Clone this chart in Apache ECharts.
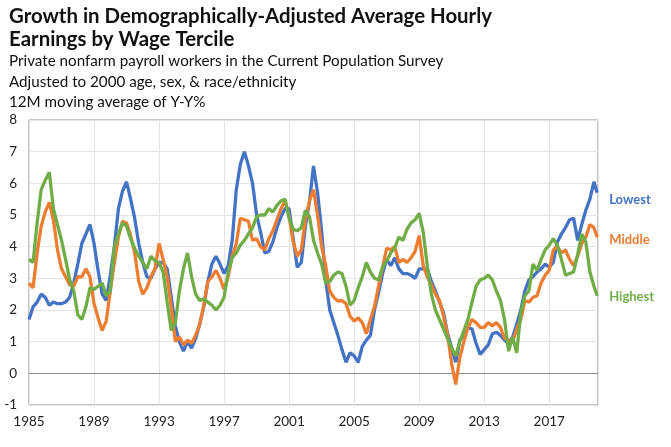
<!DOCTYPE html>
<html><head><meta charset="utf-8">
<script src="https://cdn.jsdelivr.net/npm/echarts@6/dist/echarts.min.js"></script>
<style>html,body{margin:0;padding:0;background:#fff}#c{width:671px;height:447px}</style>
</head><body><div id="c"></div>
<script>
// Quarterly observations starting 1985.0, final point late 2019
const startYear = 1985;
const quarterStep = 0.25;
const lastTime = 2019.95;
const seriesNames = ['Lowest', 'Middle', 'Highest'];
const seriesColors = ['#4472C4', '#ED7D31', '#70AD47'];
const lowest = [
  1.7, 2.1, 2.25, 2.5,  2.4, 2.15, 2.25, 2.2,  2.2, 2.25, 2.4, 2.85,  3.45, 4.1, 4.4, 4.7,
  4.1, 3.25, 2.5, 2.3,  3.1, 4.0, 5.2, 5.75,  6.05, 5.5, 4.9, 4.1,  3.5, 3.05, 3.0, 3.3,
  3.5, 3.5, 3.3, 2.4,  1.5, 1.0, 0.7, 1.0,  0.8, 1.1, 1.55, 2.1,  2.9, 3.45, 3.7, 3.45,
  3.15, 3.4, 4.2, 5.8,  6.6, 7.0, 6.55, 6.0,  5.0, 4.45, 3.8, 3.85,  4.15, 4.6, 4.95, 5.2,
  5.2, 4.25, 3.35, 3.5,  4.65, 5.4, 6.55, 5.7,  4.5, 2.95, 2.0, 1.6,  1.2, 0.75, 0.35, 0.65,
  0.55, 0.35, 0.85, 1.05,  1.2, 2.0, 2.55, 3.15,  3.6, 3.4, 3.65, 3.3,  3.15, 3.15, 3.1, 3.0,
  3.3, 3.3, 3.3, 2.9,  2.6, 2.25, 1.9, 1.25,  0.8, 0.35, 1.05, 1.2,  1.45, 1.4, 0.95, 0.6,
  0.75, 0.9, 1.25, 1.3,  1.2, 1.05, 0.95, 1.15,  1.55, 2.0, 2.6, 2.95,  3.05, 3.2, 3.3, 3.45,
  3.35, 3.5, 4.15, 4.4,  4.6, 4.85, 4.9, 4.2,  4.7, 5.15, 5.5, 6.05,  5.7
];
const middle = [
  2.85, 2.7, 3.8, 4.65,  5.1, 5.4, 4.85, 3.9,  3.3, 3.05, 2.8, 2.75,  3.05, 3.05, 3.3, 3.05,
  2.2, 1.75, 1.35, 1.65,  2.6, 3.5, 4.3, 4.8,  4.75, 4.35, 3.8, 2.9,  2.5, 2.7, 3.05, 3.3,
  4.1, 3.6, 3.05, 2.1,  1.0, 1.15, 0.9, 1.05,  0.95, 1.2, 1.55, 2.15,  2.9, 3.05, 3.25, 3.0,
  2.65, 3.05, 3.7, 4.1,  4.9, 4.85, 4.8, 4.2,  4.25, 4.0, 3.9, 4.25,  4.5, 4.85, 5.2, 5.45,
  4.95, 4.15, 3.7, 3.9,  4.85, 5.45, 5.8, 5.0,  4.0, 3.4, 2.6, 2.4,  2.28, 2.3, 2.2, 1.8,
  1.65, 1.75, 1.6, 1.25,  1.7, 2.1, 2.75, 3.35,  3.95, 3.9, 4.0, 3.5,  3.6, 3.5, 3.65, 3.85,
  4.35, 3.4, 3.05, 2.8,  2.5, 2.3, 1.8, 1.2,  0.3, -0.35, 0.5, 1.0,  1.45, 1.7, 1.6, 1.45,
  1.45, 1.6, 1.5, 1.6,  1.45, 1.1, 1.05, 1.0,  1.4, 1.7, 2.3, 2.25,  2.4, 2.45, 2.85, 3.1,
  3.25, 3.9, 4.0, 3.8,  3.9, 3.6, 3.4, 3.7,  4.1, 4.3, 4.7, 4.6,  4.3
];
const highest = [
  3.6, 3.5, 4.75, 5.8,  6.1, 6.35, 5.2, 4.7,  4.2, 3.6, 2.95, 2.6,  1.85, 1.7, 2.1, 2.7,
  2.65, 2.75, 2.85, 2.45,  2.6, 4.0, 4.4, 4.75,  4.65, 4.25, 3.95, 3.7,  3.5, 3.3, 3.7, 3.55,
  3.5, 3.2, 2.25, 1.35,  1.6, 2.6, 3.3, 3.8,  3.05, 2.5, 2.3, 2.35,  2.25, 2.15, 2.0, 2.15,
  2.4, 3.2, 3.65, 3.8,  4.05, 4.2, 4.4, 4.6,  4.95, 5.0, 5.0, 5.2,  5.1, 5.3, 5.45, 5.5,
  4.9, 4.55, 4.5, 4.6,  5.15, 4.95, 4.2, 3.8,  3.45, 2.85, 2.9, 3.1,  3.2, 3.15, 2.75, 2.15,
  2.3, 2.7, 3.05, 3.5,  3.2, 3.0, 2.95, 3.35,  3.55, 3.8, 3.97, 4.3,  4.2, 4.55, 4.75, 4.85,
  5.05, 4.45, 3.4, 2.5,  2.0, 1.7, 1.4, 1.1,  0.8, 0.55, 1.0, 1.35,  1.7, 2.25, 2.75, 2.95,
  3.0, 3.1, 2.95, 2.6,  2.3, 1.7, 0.7, 1.15,  0.65, 1.9, 2.45, 2.6,  3.45, 3.25, 3.6, 3.9,
  4.05, 4.25, 4.05, 3.6,  3.1, 3.15, 3.2, 3.75,  4.4, 4.15, 3.2, 2.75,  2.45
];
const titleLines = ['Growth in Demographically-Adjusted Average Hourly', 'Earnings by Wage Tercile'];
const subtitleLines = ['Private nonfarm payroll workers in the Current Population Survey',
  'Adjusted to 2000 age, sex, & race/ethnicity', '12M moving average of Y-Y%'];

const times = [];
for (let i = 0; i < lowest.length - 1; i++) times.push(startYear + i * quarterStep);
times.push(lastTime);

const allValues = [lowest, middle, highest];
const labelOffsets = [[0, 7], [0, 3], [0, 1]];

const series = allValues.map((vals, k) => ({
  name: seriesNames[k],
  type: 'line',
  data: times.map((t, i) => [t, vals[i]]),
  showSymbol: false,
  symbol: 'none',
  smooth: false,
  z: 2 + k,
  lineStyle: { width: 3.3, color: seriesColors[k] },
  itemStyle: { color: seriesColors[k] },
  endLabel: {
    show: true, formatter: seriesNames[k], color: seriesColors[k],
    fontFamily: 'Lato', fontWeight: 'bold', fontSize: 13, distance: 12, offset: labelOffsets[k]
  },
  emphasis: { disabled: true }
}));
series[0].markLine = {
  silent: true, symbol: 'none', label: { show: false },
  lineStyle: { color: '#8c8c8c', width: 1, type: 'solid' },
  data: [{ yAxis: 0 }], z: 1
};

const chart = echarts.init(document.getElementById('c'), null, { renderer: 'canvas' });
chart.setOption({
  animation: false,
  backgroundColor: '#fff',
  title: [
    { text: titleLines.join('\n'), left: 4, top: 0,
      textStyle: { fontFamily: 'Lato', fontWeight: 'bold', fontSize: 20.4, lineHeight: 23, color: '#111' } },
    { text: subtitleLines.join('\n'), left: 4, top: 46,
      textStyle: { fontFamily: 'Lato', fontWeight: 'normal', fontSize: 15.2, lineHeight: 20.5, color: '#111' } }
  ],
  grid: { left: 29, right: 73, top: 120, bottom: 42, show: true, borderColor: '#8c8c8c', borderWidth: 1, containLabel: false },
  xAxis: {
    type: 'value', min: 1985, max: 2020, interval: 4,
    axisLine: { show: false }, axisTick: { show: false },
    splitLine: { show: true, lineStyle: { color: '#e4e4e4', width: 1 } },
    axisLabel: { showMaxLabel: false, color: '#222', fontFamily: 'Lato', fontSize: 13.5, margin: 10, formatter: v => String(v) }
  },
  yAxis: {
    type: 'value', min: -1, max: 8, interval: 1,
    axisLine: { show: false }, axisTick: { show: false },
    splitLine: { show: true, lineStyle: { color: '#e4e4e4', width: 1 } },
    axisLabel: { color: '#222', fontFamily: 'Lato', fontSize: 13.5, margin: 12 }
  },
  series: series
});
</script></body></html>
